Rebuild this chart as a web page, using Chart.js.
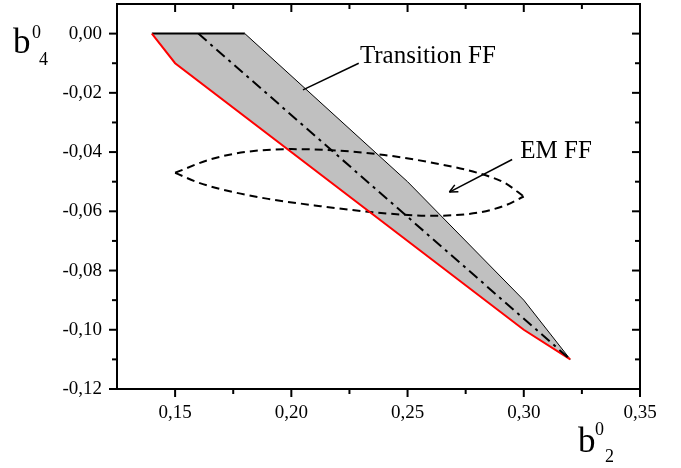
<!DOCTYPE html>
<html>
<head>
<meta charset="utf-8">
<script src="https://cdn.jsdelivr.net/npm/chart.js@4.4.0/dist/chart.umd.min.js"></script>
<style>
  html, body { margin: 0; padding: 0; background: #fff; }
  #wrap { width: 681px; height: 468px; }
</style>
</head>
<body>
<div id="wrap"><canvas id="chart" width="681" height="468"></canvas></div>
<script>
// Axis ticks
const xMajor = [0.15, 0.20, 0.25, 0.30, 0.35];
const xMinor = [0.175, 0.225, 0.275, 0.325];
const yMajor = [0.00, -0.02, -0.04, -0.06, -0.08, -0.10, -0.12];
const yMinor = [-0.01, -0.03, -0.05, -0.07, -0.09, -0.11];

// Transition FF band (upper edge, lower red edge, middle dash-dot line)
const upperX = [0.14, 0.18, 0.25, 0.30, 0.32];
const upperY = [0.00, 0.00, -0.05, -0.09, -0.11];
const lowerX = [0.14, 0.15, 0.30, 0.32];
const lowerY = [0.00, -0.01, -0.10, -0.11];
const midX = [0.16, 0.32];
const midY = [0.00, -0.11];

// EM FF contour, upper and lower halves
const emTopX = [0.150, 0.165, 0.180, 0.200, 0.220, 0.240, 0.260, 0.280, 0.292, 0.300];
const emTopY = [-0.0470, -0.0425, -0.0400, -0.0390, -0.0395, -0.0410, -0.0435, -0.0470, -0.0505, -0.0550];
const emBotX = [0.150, 0.160, 0.175, 0.190, 0.210, 0.235, 0.260, 0.280, 0.292, 0.300];
const emBotY = [-0.0470, -0.0503, -0.0535, -0.0558, -0.0580, -0.0603, -0.0615, -0.0605, -0.0580, -0.0550];

// annotation pointers
const transArrowX = [0.229, 0.205];
const transArrowY = [-0.010, -0.019];
const emArrowX = [0.295, 0.268];
const emArrowY = [-0.0425, -0.0535];

const pts = (xs, ys) => xs.map((v, i) => ({ x: v, y: ys[i] }));
const comma = v => v.toFixed(2).replace('-0.00', '0.00').replace('.', ',');
const serif = '"Liberation Serif", "Times New Roman", serif';

// band polygon: upper edge then lower edge backwards
const band = pts(upperX, upperY).concat(pts(lowerX, lowerY).reverse());

const line = (data, color, width, extra) => Object.assign({
  data: data, borderColor: color, borderWidth: width, pointRadius: 0,
  fill: false, showLine: true, tension: 0
}, extra);

const frame = {
  id: 'frame',
  afterDraw(chart) {
    const { ctx, chartArea: a, scales: { x, y } } = chart;
    ctx.save();
    ctx.strokeStyle = '#000';
    ctx.fillStyle = '#000';
    ctx.lineWidth = 2;
    ctx.strokeRect(a.left, a.top, a.right - a.left, a.bottom - a.top);
    const seg = (x1, y1, x2, y2) => { ctx.beginPath(); ctx.moveTo(x1, y1); ctx.lineTo(x2, y2); ctx.stroke(); };
    const xt = (v, len) => { const p = x.getPixelForValue(v); seg(p, a.bottom, p, a.bottom + len); seg(p, a.top, p, a.top + len); };
    const yt = (v, len) => { const p = y.getPixelForValue(v); seg(a.left - len, p, a.left, p); seg(a.right - len, p, a.right, p); };
    xMajor.forEach(v => xt(v, 8));
    xMinor.forEach(v => xt(v, 5));
    yMajor.forEach(v => yt(v, 8));
    yMinor.forEach(v => yt(v, 5));

    // arrow head on EM FF pointer
    const x0 = x.getPixelForValue(emArrowX[0]), y0 = y.getPixelForValue(emArrowY[0]);
    const x1 = x.getPixelForValue(emArrowX[1]), y1 = y.getPixelForValue(emArrowY[1]);
    const ang = Math.atan2(y1 - y0, x1 - x0);
    ctx.lineWidth = 1.5;
    [0.45, -0.45].forEach(d => seg(x1, y1, x1 - 9 * Math.cos(ang + d), y1 - 9 * Math.sin(ang + d)));

    // annotation texts
    ctx.font = '25px ' + serif;
    ctx.textBaseline = 'alphabetic';
    ctx.textAlign = 'left';
    ctx.fillText('Transition FF', x.getPixelForValue(0.2295), y.getPixelForValue(-0.0098));
    ctx.fillText('EM FF', x.getPixelForValue(0.2985), y.getPixelForValue(-0.0419));

    // axis titles
    ctx.font = '35px ' + serif;
    ctx.fillText('b', 13, 53);
    ctx.fillText('b', 578, 452);
    ctx.font = '18px ' + serif;
    ctx.fillText('0', 32, 38);
    ctx.fillText('4', 39, 65);
    ctx.fillText('0', 595, 435);
    ctx.fillText('2', 605, 462);
    ctx.restore();
  }
};

new Chart(document.getElementById('chart'), {
  type: 'scatter',
  data: {
    datasets: [
      line(pts(midX, midY), '#000', 2, { borderDash: [11, 5, 3, 5] }),
      line(pts(lowerX, lowerY), '#ff0000', 2),
      line(pts(upperX, upperY), '#000', 1, { segment: { borderWidth: c => c.p0DataIndex === 0 ? 2 : 1 } }),
      line(pts(emTopX, emTopY), '#000', 2, { borderDash: [8, 5], cubicInterpolationMode: 'monotone' }),
      line(pts(emBotX, emBotY), '#000', 2, { borderDash: [8, 5], cubicInterpolationMode: 'monotone' }),
      line(pts(transArrowX, transArrowY), '#000', 1.5),
      line(pts(emArrowX, emArrowY), '#000', 1.5),
      line(band, 'rgba(0,0,0,0)', 0, { fill: 'shape', backgroundColor: '#c0c0c0' })
    ]
  },
  options: {
    responsive: false,
    animation: false,
    layout: { padding: { top: 4, right: 41, left: 0, bottom: 0 } },
    plugins: { legend: { display: false }, tooltip: { enabled: false } },
    scales: {
      x: {
        type: 'linear', min: 0.125, max: 0.35,
        afterFit: s => { s.height = 79; s.paddingLeft = 0; s.paddingRight = 0; },
        afterBuildTicks: s => { s.ticks = xMajor.map(v => ({ value: v })); },
        grid: { display: false, drawTicks: false },
        border: { display: false },
        ticks: { autoSkip: false, maxRotation: 0, padding: 13, color: '#000',
                 font: { family: serif, size: 19 }, callback: v => comma(v) }
      },
      y: {
        type: 'linear', min: -0.12, max: 0.01,
        afterFit: s => { s.width = 117; s.paddingTop = 0; s.paddingBottom = 0; },
        afterBuildTicks: s => { s.ticks = yMajor.map(v => ({ value: v })); },
        grid: { display: false, drawTicks: false },
        border: { display: false },
        ticks: { autoSkip: false, padding: 15, color: '#000',
                 font: { family: serif, size: 19 }, callback: v => comma(v) }
      }
    }
  },
  plugins: [frame]
});
</script>
</body>
</html>
